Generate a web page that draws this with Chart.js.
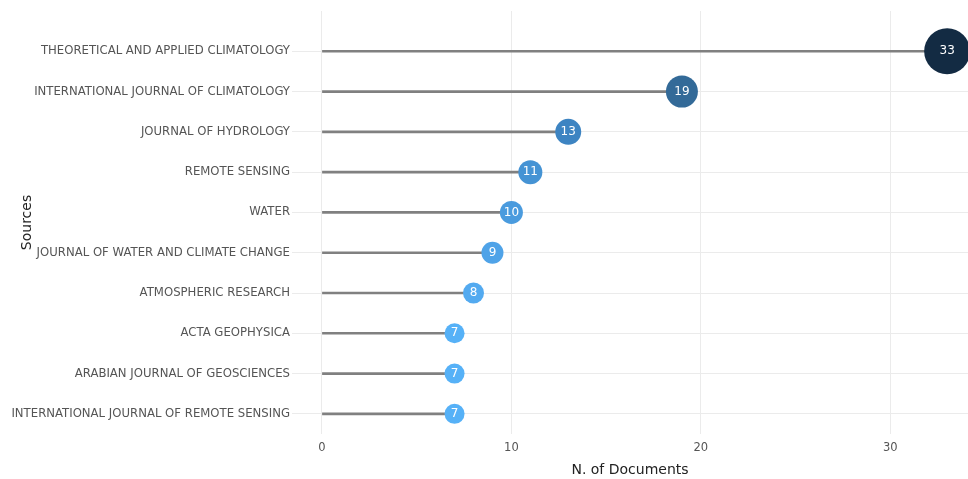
<!DOCTYPE html>
<html>
<head>
<meta charset="utf-8">
<script src="https://cdn.jsdelivr.net/npm/chart.js@4.4.1/dist/chart.umd.min.js"></script>
<style>
html,body{margin:0;padding:0;background:#fff;overflow:hidden;}
#wrap{width:968px;height:479px;position:relative;}
</style>
</head>
<body>
<div id="wrap"><canvas id="grafico"></canvas></div>
<script>
/* ============================= */
/* DATOS */
/* ============================= */

const fuentes = [
"THEORETICAL AND APPLIED CLIMATOLOGY",
"INTERNATIONAL JOURNAL OF CLIMATOLOGY",
"JOURNAL OF HYDROLOGY",
"REMOTE SENSING",
"WATER",
"JOURNAL OF WATER AND CLIMATE CHANGE",
"ATMOSPHERIC RESEARCH",
"ACTA GEOPHYSICA",
"ARABIAN JOURNAL OF GEOSCIENCES",
"INTERNATIONAL JOURNAL OF REMOTE SENSING"
];

const documentos = [33, 19, 13, 11, 10, 9, 8, 7, 7, 7];

const ticksX = [0, 10, 20, 30];

/* estilo de los puntos */
const coloresPunto = ["#132B43","#336A98","#3D84C2","#4593D4","#4A9BDE","#4FA3E8","#53AAF0","#56B1F7","#56B1F7","#56B1F7"];
const radiosPunto = [23, 16, 13, 12, 11.5, 11, 10.5, 10, 10, 10];

const FUENTE = "'DejaVu Sans', Verdana, sans-serif";

/* ============================= */
/* ETIQUETAS EN LOS CIRCULOS */
/* ============================= */

const etiquetasPunto = {
id: "etiquetasPunto",
afterDatasetsDraw(chart){
const ctx = chart.ctx;
const meta = chart.getDatasetMeta(1);
ctx.save();
ctx.fillStyle = "#ffffff";
ctx.font = "12px " + FUENTE;
ctx.textAlign = "center";
ctx.textBaseline = "middle";
meta.data.forEach((p, i)=>{
ctx.fillText(String(documentos[i]), p.x, p.y);
});
ctx.restore();
}
};

/* ============================= */
/* GRAFICO */
/* ============================= */

new Chart(document.getElementById("grafico"), {

type:"bar",

data:{
datasets:[
{
type:"bar",
data:documentos.map((v, i)=>({x:[0, v], y:i})),
backgroundColor:"#808080",
barThickness:2,
borderSkipped:false,
order:2
},
{
type:"scatter",
data:documentos.map((v, i)=>({x:v, y:i})),
pointBackgroundColor:coloresPunto,
pointBorderWidth:0,
pointRadius:radiosPunto,
pointHoverRadius:radiosPunto,
clip:false,
order:1
}
]
},

options:{
indexAxis:"y",
responsive:true,
maintainAspectRatio:false,
animation:false,
layout:{autoPadding:false, padding:{top:11, right:0, bottom:0, left:0}},
plugins:{
legend:{display:false},
tooltip:{enabled:false}
},
scales:{
x:{
type:"linear",
min:-1.58,
max:34.1,
offset:false,
afterBuildTicks(scale){
scale.ticks = ticksX.map(v=>({value:v}));
},
afterFit(scale){
scale.height = 45;
},
grid:{color:"#ebebeb", lineWidth:1, drawTicks:false, offset:false},
border:{display:false},
ticks:{color:"#555", font:{family:FUENTE, size:11.5}, padding:7},
title:{display:true, text:"N. of Documents", color:"#222", font:{family:FUENTE, size:14}, padding:{top:2, bottom:0}}
},
y:{
type:"linear",
reverse:true,
min:-1,
max:9.5,
offset:false,
afterBuildTicks(scale){
scale.ticks = fuentes.map((f, i)=>({value:i}));
},
afterFit(scale){
scale.width = 292;
},
grid:{color:"#ebebeb", lineWidth:1, drawTicks:false, offset:false},
border:{display:false},
ticks:{
color:"#555",
font:{family:FUENTE, size:11.7},
padding:2,
callback:(v)=>fuentes[v]
},
title:{display:true, text:"Sources", color:"#222", font:{family:FUENTE, size:14}, padding:{top:19, bottom:0}}
}
}
},

plugins:[etiquetasPunto]

});
</script>
</body>
</html>
